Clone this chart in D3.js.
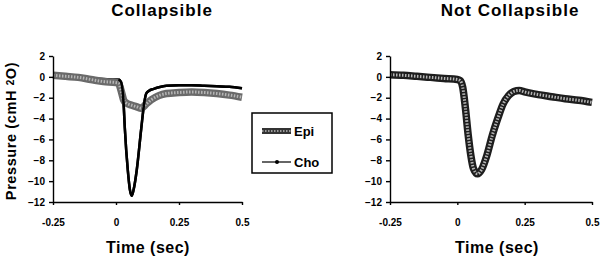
<!DOCTYPE html>
<html>
<head>
<meta charset="utf-8">
<script src="https://cdn.jsdelivr.net/npm/d3@7"></script>
<style>
  body { margin: 0; background: #fff; }
  svg { font-family: "Liberation Sans", Arial, sans-serif; font-weight: bold; }
  .axis text { font-size: 10px; font-weight: bold; fill: #000; }
  .axis path, .axis line { stroke: #000; stroke-width: 1.4; }
</style>
</head>
<body>
<div id="chart"></div>
<script>
// time (sec) and pressure (cmH2O)
const collapsibleEpiTime = [-0.25, -0.2, -0.15, -0.1, -0.05, 0, 0.01, 0.02, 0.03, 0.04, 0.06, 0.08, 0.1, 0.12, 0.14, 0.17, 0.2, 0.25, 0.3, 0.35, 0.4, 0.45, 0.5];
const collapsibleEpi = [0.15, 0.05, -0.05, -0.25, -0.45, -0.55, -0.6, -1.3, -2.2, -2.5, -2.7, -2.85, -3.0, -2.6, -2.2, -1.8, -1.6, -1.5, -1.45, -1.5, -1.6, -1.75, -1.95];
const collapsibleChoTime = [-0.25, -0.2, -0.15, -0.1, -0.05, 0, 0.01, 0.02, 0.03, 0.035, 0.047, 0.055, 0.0625, 0.07, 0.082, 0.1, 0.112, 0.12, 0.13, 0.15, 0.17, 0.2, 0.25, 0.3, 0.35, 0.4, 0.45, 0.5];
const collapsibleCho = [0.15, 0.05, -0.05, -0.15, -0.2, -0.25, -0.25, -0.5, -2.5, -4.9, -9, -10.8, -11.4, -10.8, -9, -5, -2.5, -1.6, -1.35, -1.15, -1.0, -0.85, -0.8, -0.8, -0.85, -0.9, -0.95, -1.1];
const notCollapsibleEpiTime = [-0.25, -0.2, -0.15, -0.1, -0.05, 0, 0.01, 0.02, 0.03, 0.04, 0.05, 0.06, 0.075, 0.09, 0.11, 0.13, 0.15, 0.17, 0.19, 0.21, 0.23, 0.25, 0.3, 0.35, 0.4, 0.45, 0.5];
const notCollapsibleEpi = [0.2, 0.15, 0.05, -0.05, -0.15, -0.25, -0.35, -1.0, -3.0, -5.5, -7.5, -8.8, -9.3, -8.9, -7.5, -5.6, -4.0, -2.6, -1.8, -1.4, -1.3, -1.45, -1.7, -1.9, -2.1, -2.25, -2.45];

const xTicks = [-0.25, 0, 0.25, 0.5];
const yTicks = [-12, -10, -8, -6, -4, -2, 0, 2];
const titles = ["Collapsible", "Not Collapsible"];
const legendLabels = ["Epi", "Cho"];

const svg = d3.select('#chart').append('svg').attr('width', 600).attr('height', 260);

const panels = [
  { title: titles[0], x0: 53, x1: 242, titleX: 162, timeX: 148, epi: [collapsibleEpiTime, collapsibleEpi], cho: [collapsibleChoTime, collapsibleCho], epiColor: '#6a6a6a' },
  { title: titles[1], x0: 390, x1: 592, titleX: 510, timeX: 497, epi: [notCollapsibleEpiTime, notCollapsibleEpi], cho: null, epiColor: '#1e1e1e' }
];

const yScale = d3.scaleLinear().domain([-12, 2]).range([202, 56]);

panels.forEach(p => {
  const xScale = d3.scaleLinear().domain([-0.25, 0.5]).range([p.x0, p.x1]);
  const line = d3.line().x(d => xScale(d[0])).y(d => yScale(d[1])).curve(d3.curveMonotoneX);

  const epiData = p.epi[0].map((t, i) => [t, p.epi[1][i]]);
  const choData = p.cho ? p.cho[0].map((t, i) => [t, p.cho[1][i]]) : null;

  // Cho lies under the Epi band before the drop, on top of it afterwards
  if (choData) {
    svg.append('path').datum(choData).attr('d', line)
      .attr('fill', 'none').attr('stroke', '#000').attr('stroke-width', 2.5).attr('stroke-linejoin', 'round');
  }
  svg.append('path').datum(epiData).attr('d', line)
    .attr('fill', 'none').attr('stroke', p.epiColor).attr('stroke-width', 7.5).attr('stroke-linejoin', 'round');
  svg.append('path').datum(epiData).attr('d', line)
    .attr('fill', 'none').attr('stroke', '#b5b5b5').attr('stroke-width', 3).attr('stroke-dasharray', '1.5,1.5');
  if (choData) {
    svg.append('path').datum(choData.filter(d => d[0] >= 0.01)).attr('d', line)
      .attr('fill', 'none').attr('stroke', '#000').attr('stroke-width', 2.5).attr('stroke-linejoin', 'round');
  }

  svg.append('g').attr('class', 'axis').attr('transform', `translate(0,${yScale(-12)})`)
    .call(d3.axisBottom(xScale).tickValues(xTicks).tickSize(3).tickSizeOuter(0).tickPadding(14).tickFormat(d => d));
  svg.append('g').attr('class', 'axis').attr('transform', `translate(${p.x0},0)`)
    .call(d3.axisLeft(yScale).tickValues(yTicks).tickSize(4).tickSizeOuter(0).tickPadding(4));

  svg.append('text').attr('x', p.titleX).attr('y', 16).attr('text-anchor', 'middle')
    .attr('font-size', 17).attr('letter-spacing', 1).text(p.title);
  svg.append('text').attr('x', p.timeX).attr('y', 253).attr('text-anchor', 'middle')
    .attr('font-size', 16).attr('letter-spacing', 0.5).text('Time (sec)');
});

// y axis title
const yTitle = svg.append('text').attr('transform', 'translate(16,131) rotate(-90)')
  .attr('text-anchor', 'middle').attr('font-size', 14.5).attr('letter-spacing', 0.6);
yTitle.append('tspan').text('Pressure (cmH ');
yTitle.append('tspan').attr('font-size', 10).attr('dy', -2).text('2');
yTitle.append('tspan').attr('dy', 2).text('O)');

// legend
const legend = svg.append('g');
legend.append('rect').attr('x', 252).attr('y', 113).attr('width', 80).attr('height', 60)
  .attr('fill', '#fff').attr('stroke', '#000').attr('stroke-width', 1.5);
legend.append('line').attr('x1', 262).attr('x2', 291).attr('y1', 131).attr('y2', 131)
  .attr('stroke', '#333').attr('stroke-width', 6);
legend.append('line').attr('x1', 262).attr('x2', 291).attr('y1', 131).attr('y2', 131)
  .attr('stroke', '#999').attr('stroke-width', 2).attr('stroke-dasharray', '1.5,1.5');
legend.append('line').attr('x1', 262).attr('x2', 291).attr('y1', 162).attr('y2', 162)
  .attr('stroke', '#000').attr('stroke-width', 1.2);
legend.append('circle').attr('cx', 277).attr('cy', 162).attr('r', 2).attr('fill', '#000');
legend.selectAll('text.lg').data(legendLabels).enter().append('text')
  .attr('x', 294).attr('y', (d, i) => 136 + i * 31).attr('font-size', 13).text(d => d);
</script>
</body>
</html>
